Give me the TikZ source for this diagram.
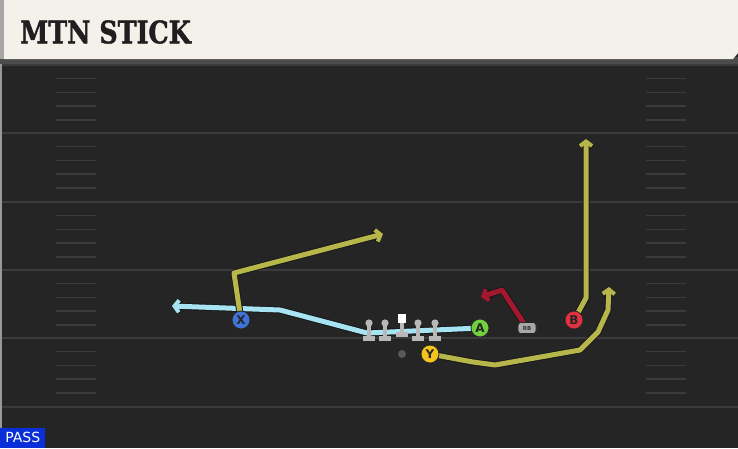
\documentclass[tikz,border=0pt]{standalone}
\usepackage{fontspec}
\setsansfont{DejaVu Sans}
\newfontfamily\titlefont{DejaVu Serif}[BoldFeatures={FakeBold=1.4}]
\usetikzlibrary{arrows.meta}
\definecolor{bgc}{HTML}{252525}
\definecolor{fline}{HTML}{3B3B3B}
\definecolor{hdr}{HTML}{F4F1EA}
\definecolor{lblue}{HTML}{A6E4F4}
\definecolor{olive}{HTML}{B6B64A}
\definecolor{rroute}{HTML}{A3182F}
\definecolor{pblue}{HTML}{3F73D9}
\definecolor{pgreen}{HTML}{72D03C}
\definecolor{pyellow}{HTML}{F2C41C}
\definecolor{pred}{HTML}{E3323F}
\definecolor{pgray}{HTML}{A8A8A8}
\definecolor{olgray}{HTML}{B8B8B8}
\definecolor{passblue}{HTML}{0A2ED8}
\pgfdeclarelayer{field}
\pgfdeclarelayer{routes}
\pgfsetlayers{field,routes,main}
\tikzset{
  route/.style={line width=5pt, draw=#1, line join=round,
    -{Straight Barb[length=4.5pt,width=12pt,line width=4pt]},
    preaction={draw=black!90, line width=7pt, line join=round,
      -{Straight Barb[length=4.5pt,width=12pt,line width=6pt]}}},
  player/.style={circle, draw=black!85, line width=0.8pt, fill=#1,
    minimum size=18pt, inner sep=0pt,
    font=\sffamily\bfseries\fontsize{12}{12}\selectfont, text=black!85},
  hash/.style={draw=fline, line width=1.4pt},
  yard/.style={draw=fline, line width=2pt},
  lineman/.pic={
    \fill[olgray] (0,-4) circle (3.6);
    \fill[olgray] (-1.6,-3) rectangle (1.6,9);
    \fill[olgray] (-6,9) rectangle (6,14);
  },
  centerman/.pic={
    \fill[white] (-4,-9) rectangle (4,0);
    \fill[olgray] (-1.6,0) rectangle (1.6,9);
    \fill[olgray] (-6,9) rectangle (6,14);
  }
}
\begin{document}
\begin{tikzpicture}[x=1pt,y=-1pt]
\useasboundingbox (0,0) rectangle (738,448);
\begin{pgfonlayer}{field}
  \fill[bgc] (0,0) rectangle (738,448);
  \fill[black!40] (0,0) rectangle (2,448);
  \foreach \yy in {65,133,202,270,338,407}
    \draw[yard] (2,\yy) -- (738,\yy);
  \foreach \yy in {65,133,202,270,338}
    \foreach \k in {13.7,27.4,41.1,54.8} {
      \draw[hash] (56,\yy+\k) -- (96,\yy+\k);
      \draw[hash] (646,\yy+\k) -- (686,\yy+\k);
    }
  \fill[black!70] (0,57) rectangle (738,64);
  \fill[hdr] (4,0) -- (738,0) -- (738,53) -- (733,59) -- (4,59) -- cycle;
  \fill[black!35] (0,0) rectangle (4,59);
\end{pgfonlayer}

\node[anchor=west, inner sep=0pt, text=black!88] (title) at (20,32)
  {\scalebox{0.82}[1]{\titlefont\bfseries\fontsize{31}{31}\selectfont MTN STICK}};

\node[fill=passblue, anchor=south west, minimum width=45pt, minimum height=20pt,
  inner sep=0pt, text=white, font=\sffamily\fontsize{14}{14}\selectfont] (pass) at (0,448) {PASS};

% offensive line
\pic (lt) at (369,327) {lineman};
\pic (lg) at (385,327) {lineman};
\pic (c)  at (402,323) {centerman};
\pic (rg) at (418,327) {lineman};
\pic (rt) at (435,327) {lineman};
\node[circle, fill=gray!70!black, minimum size=8pt, inner sep=0pt] (qb) at (402,354) {};

% players
\node[player=pblue] (X) at (241,320) {X};
\node[player=pgreen] (A) at (480,328) {A};
\node[player=pyellow] (Y) at (430,354) {Y};
\node[player=pred] (B) at (574,320) {B};
\node[draw=black!85, line width=0.6pt, fill=pgray, rounded corners=3pt,
  minimum width=18pt, minimum height=11pt, inner sep=0pt,
  font=\sffamily\bfseries\fontsize{5.5}{5.5}\selectfont, text=black!80] (RB) at (527,328) {RB};

% route points
\coordinate (a1) at (367,333);
\coordinate (a2) at (280,310);
\coordinate (aend) at (172,306);
\coordinate (x1) at (234,273);
\coordinate (xend) at (383,234);
\coordinate (y1) at (473,362);
\coordinate (y2) at (495,365);
\coordinate (y3) at (580,350);
\coordinate (y4) at (598,332);
\coordinate (y5) at (608,310);
\coordinate (yend) at (609,287);
\coordinate (b1) at (586,298);
\coordinate (bend) at (586,139);
\coordinate (r1) at (502,290);
\coordinate (rend) at (481,297);

\begin{pgfonlayer}{routes}
  \draw[route=lblue] (A.center) -- (a1) -- (a2) -- (aend);
  \draw[route=olive] (X.center) -- (x1) -- (xend);
  \draw[route=olive] (Y.center) -- (y1) -- (y2) -- (y3) -- (y4) -- (y5) -- (yend);
  \draw[route=olive] (B.center) -- (b1) -- (bend);
  \draw[route=rroute] (RB.center) -- (r1) -- (rend);
\end{pgfonlayer}
\end{tikzpicture}
\end{document}
